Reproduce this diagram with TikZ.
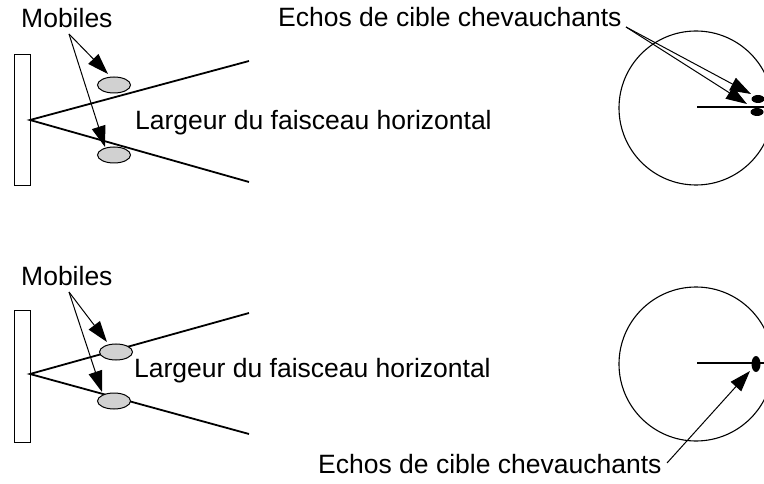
\documentclass[tikz,border=0pt]{standalone}
\usepackage{fontspec}
\setmainfont{Liberation Sans}
\usetikzlibrary{arrows.meta,shapes.geometric}
\begin{document}
\begin{tikzpicture}[x=1pt,y=-1pt,
    label/.style={inner sep=0pt, anchor=base west, font=\fontsize{26.5}{30}\selectfont},
    wall/.style={draw, line width=0.9pt},
    beam/.style={draw, line width=1.8pt},
    mobile/.style={ellipse, draw, line width=1pt, fill=black!18, minimum width=33pt, minimum height=16pt, inner sep=0pt},
    echo/.style={ellipse, fill=black, inner sep=0pt},
    pointer/.style={line width=1pt, -{Triangle[length=21pt,width=14pt]}},
    screen/.style={line width=1.1pt}]
    \clip (0,0) rectangle (764,484);

    % ---- top: targets apart in the beam ----
    % Antenna and beam
    \draw[wall] (14,54) rectangle (30,185);
    \coordinate (apexA) at (30,120);
    \draw[beam] (249,61) -- (apexA) -- (249,182);

    % Targets
    \node[mobile] (mobA1) at (114,85) {};
    \node[mobile] (mobA2) at (114,155) {};

    % Labels
    \node[label] (mobilesA) at (21,28) {Mobiles};
    \node[label] (beamA) at (135,130) {Largeur du faisceau horizontal};
    \node[label] (echosA) at (278,27) {Echos de cible chevauchants};

    % Pointers
    \coordinate (fromA) at (69,34);
    \coordinate (tipA1) at (108,74);
    \coordinate (tipA2) at (105,147);
    \draw[pointer] (fromA) -- (tipA1);
    \draw[pointer] (fromA) -- (tipA2);

    % Screen
    \draw[screen] (696,108) circle (77pt);
    \coordinate (centreA) at (697,107);
    \draw[screen] (centreA) -- (770,107);
    \node[echo, minimum width=13pt, minimum height=8pt] (echoA1) at (758,99) {};
    \node[echo, minimum width=13pt, minimum height=8pt] (echoA2) at (757,112) {};
    \coordinate (fromE) at (626,27);
    \coordinate (tipE1) at (751,94);
    \coordinate (tipE2) at (747,104);
    \draw[pointer] (fromE) -- (tipE1);
    \draw[pointer] (fromE) -- (tipE2);

    % ---- bottom: targets on the beam edges ----
    % Antenna and beam
    \draw[wall] (14,310) rectangle (30,442);
    \coordinate (apexB) at (30,374);
    \draw[beam] (249,313) -- (apexB) -- (249,434);

    % Targets
    \node[mobile] (mobB1) at (116,352) {};
    \node[mobile] (mobB2) at (114,401) {};

    % Labels
    \node[label] (mobilesB) at (21,285) {Mobiles};
    \node[label] (beamB) at (134,377) {Largeur du faisceau horizontal};
    \node[label] (echosB) at (318,473) {Echos de cible chevauchants};

    % Pointers
    \coordinate (fromB) at (69,292);
    \coordinate (tipB1) at (107,342);
    \coordinate (tipB2) at (102,392);
    \draw[pointer] (fromB) -- (tipB1);
    \draw[pointer] (fromB) -- (tipB2);

    % Screen
    \draw[screen] (696,364) circle (77pt);
    \coordinate (centreB) at (697,363);
    \draw[screen] (centreB) -- (770,363);
    \node[echo, minimum width=9pt, minimum height=16pt] (echoB) at (756,364) {};
    \coordinate (fromF) at (667,463);
    \coordinate (tipF) at (750,371);
    \draw[pointer] (fromF) -- (tipF);
\end{tikzpicture}
\end{document}
